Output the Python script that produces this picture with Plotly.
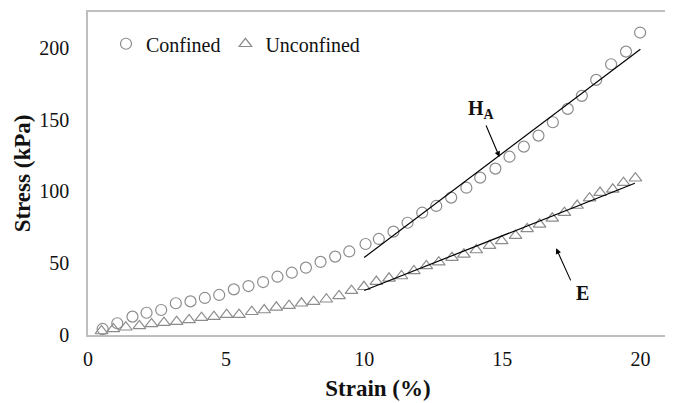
import plotly.graph_objects as go

# ---- data ----
confined_strain = [0.53, 1.06, 1.61, 2.12, 2.65, 3.18, 3.71, 4.23, 4.75, 5.28,
                   5.81, 6.34, 6.86, 7.38, 7.89, 8.42, 8.95, 9.46, 10.05, 10.53,
                   11.06, 11.57, 12.10, 12.61, 13.15, 13.70, 14.20, 14.75, 15.26, 15.78,
                   16.31, 16.83, 17.37, 17.88, 18.40, 18.94, 19.48, 19.99]
confined_stress = [4.2, 8.2, 12.8, 15.5, 17.4, 22.1, 23.4, 25.8, 27.9, 31.8,
                   34.1, 36.9, 40.6, 43.4, 46.9, 50.9, 54.6, 58.2, 63.4, 66.9,
                   72.0, 78.2, 85.2, 89.9, 95.7, 102.6, 109.6, 115.9, 124.2, 131.2,
                   138.9, 148.2, 157.5, 166.6, 177.7, 188.6, 197.4, 210.7]

unconfined_strain = [0.49, 0.92, 1.37, 1.86, 2.30, 2.75, 3.21, 3.66, 4.11, 4.56,
                     5.02, 5.47, 5.93, 6.38, 6.82, 7.28, 7.73, 8.17, 8.63, 9.09,
                     9.54, 9.99, 10.44, 10.90, 11.35, 11.80, 12.25, 12.70, 13.18, 13.61,
                     14.06, 14.54, 14.98, 15.48, 15.90, 16.35, 16.81, 17.25, 17.71, 18.16,
                     18.54, 19.00, 19.39, 19.82]
unconfined_stress = [2.8, 4.2, 5.4, 6.3, 7.7, 8.6, 9.3, 10.5, 12.1, 12.8,
                     14.2, 14.2, 16.2, 17.4, 19.3, 20.4, 22.1, 23.2, 24.9, 27.2,
                     30.9, 33.6, 37.2, 39.5, 41.1, 44.6, 48.1, 50.7, 53.9, 56.2,
                     59.2, 62.2, 65.5, 69.2, 73.9, 77.1, 81.3, 85.2, 90.2, 95.3,
                     99.2, 101.5, 106.1, 109.2]

ha_fit_x = [10.0, 20.0]
ha_fit_y = [54.0, 199.0]
e_fit_x = [10.0, 19.8]
e_fit_y = [31.0, 105.7]

x_ticks = [0, 5, 10, 15, 20]
y_ticks = [0, 50, 100, 150, 200]

FONT = "Liberation Serif"
GRAY = "#8c8c8c"
TXT = "#111111"

fig = go.Figure()
fig.add_trace(go.Scatter(
    x=confined_strain, y=confined_stress, mode="markers", name="Confined",
    marker=dict(symbol="circle-open", size=11, color=GRAY, line=dict(width=1.2, color=GRAY)),
))
fig.add_trace(go.Scatter(
    x=unconfined_strain, y=unconfined_stress, mode="markers", name="Unconfined",
    marker=dict(symbol="triangle-up-open", size=11, color=GRAY, line=dict(width=1.2, color=GRAY)),
))
fig.add_trace(go.Scatter(x=ha_fit_x, y=ha_fit_y, mode="lines", showlegend=False,
                         line=dict(color="black", width=1.2)))
fig.add_trace(go.Scatter(x=e_fit_x, y=e_fit_y, mode="lines", showlegend=False,
                         line=dict(color="black", width=1.2)))

# arrows
fig.add_annotation(x=14.9, y=124, ax=14.39, ay=147, axref="x", ayref="y", xref="x", yref="y",
                   text="", showarrow=True, arrowhead=2, arrowsize=1, arrowwidth=1.1, arrowcolor="black")
fig.add_annotation(x=16.95, y=60.4, ax=17.5, ay=37, axref="x", ayref="y", xref="x", yref="y",
                   text="", showarrow=True, arrowhead=2, arrowsize=1, arrowwidth=1.1, arrowcolor="black")
fig.add_annotation(x=14.25, y=157, xref="x", yref="y", text="<b>H<sub>A</sub></b>",
                   showarrow=False, font=dict(family=FONT, size=20, color=TXT))
fig.add_annotation(x=17.9, y=29.5, xref="x", yref="y", text="<b>E</b>",
                   showarrow=False, font=dict(family=FONT, size=20, color=TXT))

# the page body adds an 8px offset, so the figure is sized to the remaining window
fig.update_layout(
    width=665, height=395,
    margin=dict(l=80, r=5, t=4, b=68),
    paper_bgcolor="white", plot_bgcolor="white",
    font=dict(family=FONT, size=20, color=TXT),
    legend=dict(orientation="h", x=0.031, xanchor="left", y=0.962, yanchor="top",
                bgcolor="rgba(0,0,0,0)", font=dict(family=FONT, size=20, color=TXT),
                itemwidth=30, tracegroupgap=0),
    showlegend=True,
)
fig.update_xaxes(range=[0, 21], tickvals=x_ticks, showgrid=False, zeroline=False, automargin=False,
                 showline=True, linecolor="#bfbfbf", linewidth=1.5, mirror=True,
                 ticks="outside", ticklen=5, tickcolor="rgba(0,0,0,0)",
                 tickfont=dict(family=FONT, size=20, color=TXT),
                 title=dict(text="<b>Strain (%)</b>", font=dict(family=FONT, size=23, color=TXT), standoff=11))
fig.update_yaxes(range=[0, 225], tickvals=y_ticks, showgrid=False, zeroline=False, automargin=False,
                 showline=True, linecolor="#bfbfbf", linewidth=1.5, mirror=True,
                 ticks="outside", ticklen=13, tickcolor="rgba(0,0,0,0)",
                 tickfont=dict(family=FONT, size=20, color=TXT),
                 title=dict(text="<b>Stress (kPa)</b>", font=dict(family=FONT, size=23, color=TXT), standoff=2))

fig.write_html("out.html")
